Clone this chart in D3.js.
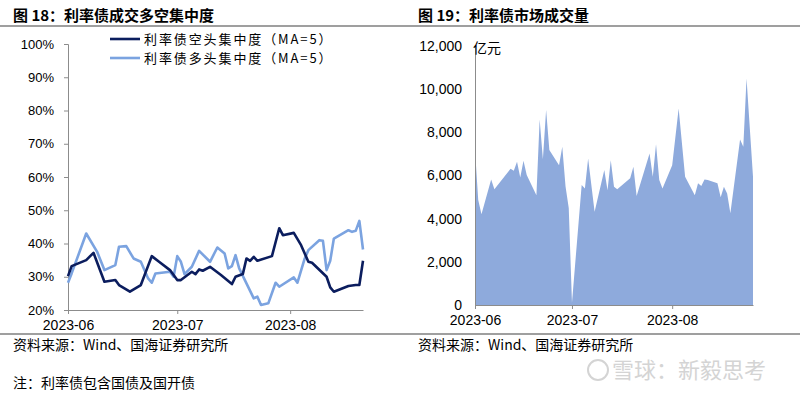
<!DOCTYPE html>
<html><head><meta charset="utf-8">
<script src="https://cdn.jsdelivr.net/npm/d3@7"></script>
<style>
body{margin:0;background:#fff;}
svg{display:block;font-family:"Liberation Sans",Arial,sans-serif;}
.cjk{font-family:"Noto Sans CJK SC","Liberation Sans",sans-serif;}
</style></head><body>
<svg id="c" width="800" height="394"></svg>
<script>
// ---- Data: left chart (利率债成交多空集中度, %) ----
const shortDates = ["2023-06-01","2023-06-02","2023-06-06","2023-06-08","2023-06-11","2023-06-14","2023-06-15","2023-06-18","2023-06-21","2023-06-24","2023-06-26","2023-06-29","2023-07-01","2023-07-02","2023-07-05","2023-07-06","2023-07-07","2023-07-08","2023-07-10","2023-07-13","2023-07-16","2023-07-17","2023-07-19","2023-07-20","2023-07-21","2023-07-22","2023-07-23","2023-07-27","2023-07-29","2023-07-30","2023-08-02","2023-08-04","2023-08-06","2023-08-07","2023-08-11","2023-08-12","2023-08-13","2023-08-17","2023-08-19","2023-08-20","2023-08-21"];
const shortValues = [30.2,33.2,35.0,37.2,28.5,29.0,27.5,25.5,27.5,36.2,34.5,32.0,29.0,29.0,31.5,30.8,32.2,31.8,33.0,30.5,27.8,30.0,30.8,35.5,34.8,36.0,34.8,36.2,44.6,42.5,43.2,39.5,34.5,34.2,30.0,26.8,25.5,27.2,27.5,27.5,34.8];
const longDates = ["2023-06-01","2023-06-02","2023-06-06","2023-06-09","2023-06-11","2023-06-14","2023-06-15","2023-06-17","2023-06-19","2023-06-21","2023-06-23","2023-06-24","2023-06-25","2023-06-29","2023-06-30","2023-07-01","2023-07-02","2023-07-03","2023-07-05","2023-07-07","2023-07-10","2023-07-12","2023-07-14","2023-07-15","2023-07-16","2023-07-17","2023-07-18","2023-07-22","2023-07-23","2023-07-24","2023-07-26","2023-07-28","2023-07-29","2023-08-02","2023-08-03","2023-08-05","2023-08-06","2023-08-09","2023-08-10","2023-08-11","2023-08-12","2023-08-13","2023-08-17","2023-08-18","2023-08-19","2023-08-20","2023-08-21"];
const longValues = [28.2,31.0,43.0,37.5,32.0,33.5,39.0,39.2,35.5,34.5,29.5,28.2,31.0,31.5,30.0,36.2,34.5,30.8,33.0,37.8,34.5,38.8,37.0,32.5,33.2,36.5,32.5,23.5,24.0,21.5,22.0,28.2,27.0,29.8,28.2,35.5,38.0,41.0,40.8,32.0,34.8,41.5,44.0,43.5,43.8,46.8,38.2];
const leftTicks = [20,30,40,50,60,70,80,90,100];
const seriesNames = ["利率债空头集中度（MA=5）","利率债多头集中度（MA=5）"];

// ---- Data: right chart (利率债市场成交量, 亿元) ----
const volDates = ["2023-06-01","2023-06-02","2023-06-03","2023-06-06","2023-06-07","2023-06-12","2023-06-13","2023-06-14","2023-06-15","2023-06-16","2023-06-17","2023-06-20","2023-06-21","2023-06-22","2023-06-23","2023-06-24","2023-06-27","2023-06-28","2023-06-29","2023-06-30","2023-07-01","2023-07-04","2023-07-05","2023-07-06","2023-07-08","2023-07-11","2023-07-12","2023-07-13","2023-07-14","2023-07-15","2023-07-19","2023-07-20","2023-07-21","2023-07-25","2023-07-26","2023-07-27","2023-07-28","2023-07-29","2023-08-01","2023-08-03","2023-08-05","2023-08-08","2023-08-09","2023-08-10","2023-08-11","2023-08-12","2023-08-15","2023-08-16","2023-08-17","2023-08-18","2023-08-19","2023-08-22","2023-08-23","2023-08-24","2023-08-26"];
const volValues = [7180,4860,4210,5820,5360,6310,6220,6640,5910,6680,6020,5090,8600,6750,9030,7180,6480,7330,5500,4500,100,5560,5400,6790,4320,6250,5320,6710,5480,5360,5870,6400,5050,7020,5940,7450,5790,5400,6480,9110,5940,5090,5640,5510,5820,5790,5640,4990,5480,5170,4250,7670,7330,10500,5940];
const rightTicks = [0,2000,4000,6000,8000,10000,12000];
const monthTicks = ["2023-06-01","2023-07-01","2023-08-01"];

const parse = d3.timeParse("%Y-%m-%d");
const fmtMonth = d3.timeFormat("%Y-%m");
const svg = d3.select("#c");
const axisColor = "#8c8c8c";

// Titles and rules
svg.append("text").attr("class","cjk").attr("x",13).attr("y",21).attr("font-size",15).attr("font-weight","bold").text("图 18：利率债成交多空集中度");
svg.append("text").attr("class","cjk").attr("x",418).attr("y",21).attr("font-size",15).attr("font-weight","bold").text("图 19：利率债市场成交量");
svg.append("line").attr("x1",0).attr("x2",800).attr("y1",26).attr("y2",26).attr("stroke","#7f7f7f").attr("stroke-width",1.5);
svg.append("line").attr("x1",0).attr("x2",800).attr("y1",334).attr("y2",334).attr("stroke","#7f7f7f").attr("stroke-width",1.5);
svg.append("text").attr("class","cjk").attr("x",13).attr("y",350).attr("font-size",14).text("资料来源：Wind、国海证券研究所");
svg.append("text").attr("class","cjk").attr("x",418).attr("y",350).attr("font-size",14).text("资料来源：Wind、国海证券研究所");
svg.append("text").attr("class","cjk").attr("x",13).attr("y",388).attr("font-size",14).text("注：利率债包含国债及国开债");
svg.append("circle").attr("cx",598).attr("cy",370).attr("r",10).attr("fill","none").attr("stroke","#d4d4d4").attr("stroke-width",2);
svg.append("text").attr("class","cjk").attr("x",612).attr("y",378).attr("font-size",22).attr("fill","#d4d4d4").text("雪球：新毅思考");

// ---------------- Left chart ----------------
{
  const x = d3.scaleTime().domain([parse("2023-06-01"), parse("2023-08-21")]).range([68, 363]);
  const y = d3.scaleLinear().domain([20,100]).range([310, 44]);
  const g = svg.append("g");
  const ya = g.append("g").attr("transform","translate(68,0)")
    .call(d3.axisLeft(y).tickValues(leftTicks).tickSize(4).tickPadding(10).tickFormat(d=>d+"%"));
  ya.select(".domain").attr("stroke",axisColor);
  ya.selectAll("line").attr("stroke",axisColor);
  ya.selectAll("text").attr("font-size",13).attr("fill","#000").attr("font-family","Liberation Sans, Arial");
  const xa = g.append("g").attr("transform","translate(0,310)")
    .call(d3.axisBottom(x).tickValues(monthTicks.map(parse)).tickSize(4).tickPadding(6).tickFormat(fmtMonth).tickSizeOuter(0));
  xa.select(".domain").attr("stroke",axisColor);
  xa.selectAll("line").attr("stroke",axisColor);
  xa.selectAll("text").attr("font-size",14).attr("fill","#000").attr("font-family","Liberation Sans, Arial");

  const line = d3.line().x(d=>x(d[0])).y(d=>y(d[1]));
  const longData = longDates.map((d,i)=>[parse(d), longValues[i]]);
  const shortData = shortDates.map((d,i)=>[parse(d), shortValues[i]]);
  g.append("path").datum(longData).attr("d",line).attr("fill","none").attr("stroke","#7ba3e0").attr("stroke-width",2.6).attr("stroke-linejoin","round");
  g.append("path").datum(shortData).attr("d",line).attr("fill","none").attr("stroke","#0b1d5e").attr("stroke-width",2.6).attr("stroke-linejoin","round");

  const colors = ["#0b1d5e","#7ba3e0"];
  seriesNames.forEach((n,i)=>{
    const yy = 39 + i*19;
    g.append("line").attr("x1",110).attr("x2",140).attr("y1",yy).attr("y2",yy).attr("stroke",colors[i]).attr("stroke-width",2.6);
    g.append("text").attr("class","cjk").attr("x",144).attr("y",yy+4.5).attr("font-size",13).attr("letter-spacing",1.9).text(n);
  });
}

// ---------------- Right chart ----------------
{
  const x = d3.scaleTime().domain([parse("2023-06-01"), parse("2023-08-26")]).range([475, 753]);
  const y = d3.scaleLinear().domain([0,12000]).range([305, 46]);
  const g = svg.append("g");
  const data = volDates.map((d,i)=>[parse(d), volValues[i]]);
  const area = d3.area().x(d=>x(d[0])).y0(y(0)).y1(d=>y(d[1]));
  g.append("path").datum(data).attr("d",area).attr("fill","#8eaadc");

  const ya = g.append("g").attr("transform","translate(475,0)")
    .call(d3.axisLeft(y).tickValues(rightTicks).tickSize(0).tickPadding(13).tickFormat(d3.format(",")));
  ya.select(".domain").attr("stroke",axisColor);
  ya.selectAll("text").attr("font-size",14).attr("fill","#000").attr("font-family","Liberation Sans, Arial");
  const xa = g.append("g").attr("transform","translate(0,305)")
    .call(d3.axisBottom(x).tickValues(monthTicks.map(parse)).tickSize(4).tickPadding(6).tickFormat(fmtMonth).tickSizeOuter(0));
  xa.select(".domain").attr("stroke",axisColor);
  xa.selectAll("line").attr("stroke",axisColor);
  xa.selectAll("text").attr("font-size",14).attr("fill","#000").attr("font-family","Liberation Sans, Arial");
  g.append("text").attr("class","cjk").attr("x",473).attr("y",53).attr("font-size",14).text("亿元");
}
</script>
</body></html>
